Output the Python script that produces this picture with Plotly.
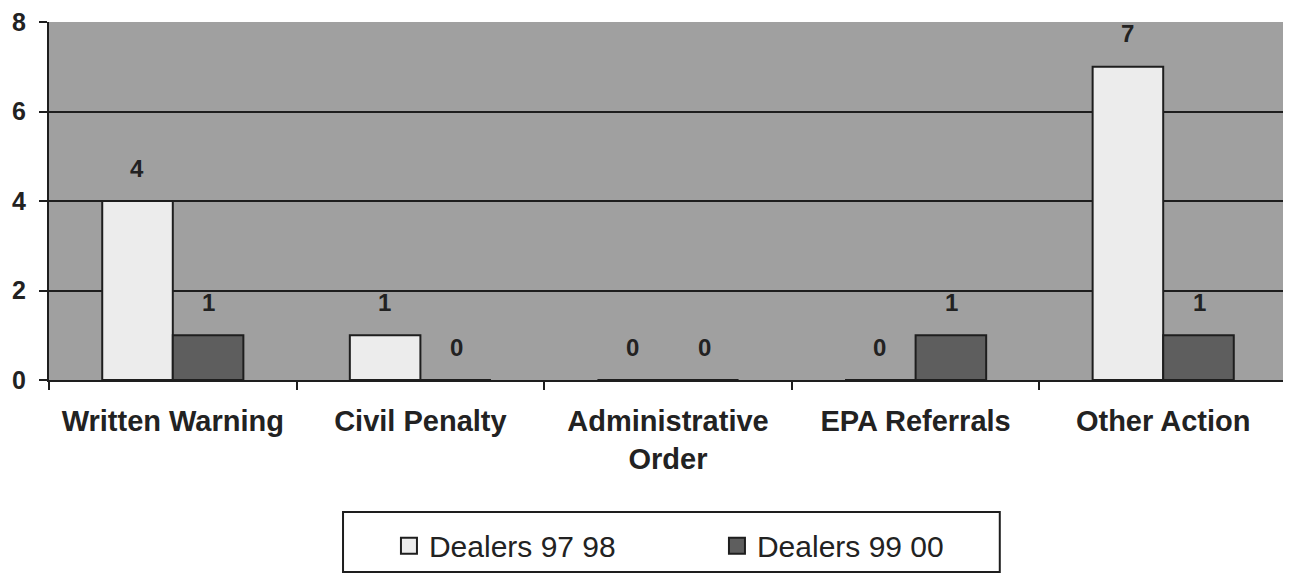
import plotly.graph_objects as go

# enforcement actions, dealers
categories = ["Written Warning", "Civil Penalty", "Administrative<br>Order",
              "EPA Referrals", "Other Action"]
dealers_9798 = [4, 1, 0, 0, 7]
dealers_9900 = [1, 0, 0, 1, 1]
series_names = ["Dealers 97 98", "Dealers 99 00"]
series_colors = ["#ececec", "#5e5e5e"]

FONT = "Liberation Sans, Arial, sans-serif"
INK = "#1e1e1e"

fig = go.Figure()
for vals, name, col in zip([dealers_9798, dealers_9900], series_names, series_colors):
    fig.add_trace(go.Bar(x=categories, y=vals, name=name, showlegend=False,
                         marker=dict(color=col, line=dict(color=INK, width=2))))
# legend swatches (bigger squares than the bar default)
for name, col in zip(series_names, series_colors):
    fig.add_trace(go.Scatter(x=[None], y=[None], mode="markers", name=name,
                             marker=dict(symbol="square", size=16, color=col,
                                         line=dict(color=INK, width=2))))

# value labels floating above each bar
for vals, shift in [(dealers_9798, -36), (dealers_9900, 36)]:
    for cat, v in zip(categories, vals):
        fig.add_annotation(x=cat, y=v, text=str(v), showarrow=False,
                           xshift=shift, yshift=33, yanchor="middle",
                           font=dict(family=FONT, size=24, color="#222222", weight="bold"))

# legend frame (drawn separately so the padding matches)
fig.add_shape(type="rect", xref="paper", yref="paper",
              x0=0.2375, x1=0.768, y0=-0.369, y1=-0.536,
              line=dict(color=INK, width=2), fillcolor="rgba(0,0,0,0)")

fig.update_layout(
    width=1283, height=572,
    margin=dict(l=41, r=4, t=14, b=200),
    paper_bgcolor="white",
    plot_bgcolor="#a0a0a0",
    barmode="group",
    bargap=0.43,
    bargroupgap=0,
    font=dict(family=FONT, color="#222222"),
    legend=dict(orientation="h", x=0.2746, xanchor="left", y=-0.463, yanchor="middle",
                borderwidth=0, bgcolor="rgba(0,0,0,0)",
                font=dict(family=FONT, size=30, color="#222222"),
                entrywidth=283, itemsizing="trace"),
)
fig.update_yaxes(range=[0, 8], dtick=2, showgrid=True, gridcolor=INK, gridwidth=2,
                 showline=True, linecolor=INK, linewidth=2,
                 ticks="outside", ticklen=8, tickwidth=2, tickcolor=INK,
                 ticklabelstandoff=8, ticklabeloverflow="allow", automargin=False,
                 tickfont=dict(family=FONT, size=25, color="#222222", weight="bold"),
                 zeroline=False)
fig.update_xaxes(showline=True, linecolor=INK, linewidth=2,
                 ticks="outside", ticklen=8, tickwidth=2, tickcolor=INK,
                 tickson="boundaries", ticklabelstandoff=14, automargin=False,
                 tickfont=dict(family=FONT, size=29, color="#222222", weight="bold"))

fig.write_html("out.html")
